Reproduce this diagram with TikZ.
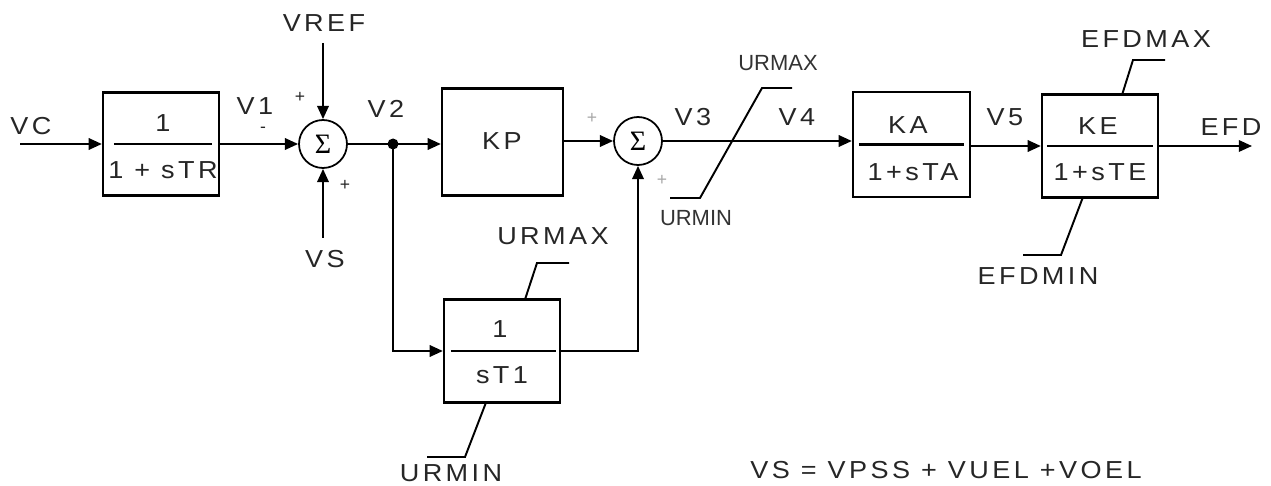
\documentclass[tikz,border=0pt]{standalone}
\usepackage{fontspec}
\setmainfont{Liberation Sans}
\newfontfamily\lblfont[FakeStretch=1.1,LetterSpace=14]{Liberation Sans}
\newfontfamily\sigfont{Liberation Serif}
\usetikzlibrary{arrows.meta,calc}
\begin{document}
\begin{tikzpicture}[x=0.02cm,y=-0.02cm,
  line width=1.2pt,
  arr/.style={-{Triangle[length=7.5pt,width=6.5pt]}},
  blk/.style={draw, line width=1.3pt, inner sep=0},
  sumnode/.style={draw,circle,minimum size=0.96cm,inner sep=0,line width=1pt,font=\sigfont\fontsize{16}{18}\selectfont},
  lbl/.style={font=\lblfont\fontsize{14}{16}\selectfont, text=black!85, inner sep=0},
  sml/.style={font=\fontsize{12.5}{14}\selectfont, text=black!80, inner sep=0},
  sgn/.style={font=\fontsize{10}{11}\selectfont, text=black!85, inner sep=0},
  gsgn/.style={sgn, text=black!35},
  lim/.style={line width=1.1pt},
]
\useasboundingbox (0,0) rectangle (1271,486);

% blocks
\node[blk,minimum width=2.32cm,minimum height=2.06cm] (tr) at (161,144) {};
\node[blk,minimum width=2.42cm,minimum height=2.14cm] (kp) at (502.5,142) {};
\node[blk,minimum width=2.32cm,minimum height=2.06cm] (t1) at (502,351) {};
\node[blk,minimum width=2.34cm,minimum height=2.10cm] (ka) at (911.5,144.5) {};
\node[blk,minimum width=2.32cm,minimum height=2.06cm] (ke) at (1100,146) {};

% fraction bars
\draw ([xshift=0.24cm]tr.west) -- ([xshift=-0.16cm]tr.east);
\draw ([xshift=0.16cm]t1.west) -- ([xshift=-0.10cm]t1.east);
\draw ([xshift=0.14cm]ka.west) -- ([xshift=-0.14cm]ka.east);
\draw ([xshift=0.12cm]ke.west) -- ([xshift=-0.12cm]ke.east);

% block texts
\node[lbl] (trn) at (163,123) {1};
\node[lbl] (trd) at (163,170) {1 + sTR};
\node[lbl] (kpt) at (502,141) {KP};
\node[lbl] (t1n) at (500,329) {1};
\node[lbl] (t1d) at (502,375) {sT1};
\node[lbl] (kan) at (908,125) {KA};
\node[lbl] (kad) at (913,172) {1+sTA};
\node[lbl] (ken) at (1098,126) {KE};
\node[lbl] (ked) at (1100,172) {1+sTE};

% summing junctions and dot
\node[sumnode] (s1) at (323,144) {Σ};
\node[sumnode] (s2) at (638,141) {Σ};
\node[circle,fill=black,inner sep=0,minimum size=0.22cm] (v2) at (393,144) {};

% free ends
\coordinate (vcin) at (20,144);
\coordinate (vrefin) at (323,43);
\coordinate (vsin) at (323,238);
\coordinate (efdout) at (1252,146);

% connectors
\draw[arr] (vcin) -- (tr.west);
\draw[arr] (tr.east) -- (s1.west);
\draw[arr] (vrefin) -- (s1.north);
\draw[arr] (vsin) -- (s1.south);
\draw (s1.east) -- (v2.center);
\draw[arr] (v2.center) -- (v2.center -| kp.west);
\draw[arr] (kp.east |- s2.west) -- (s2.west);
\draw[arr] (v2.center) |- (t1.west);
\draw[arr] (t1.east) -| (s2.south);
\draw[arr] (s2.east) -- (s2.east -| ka.west);
\draw[arr] (ka.east |- ke.west) -- (ke.west);
\draw[arr] (ke.east) -- (efdout);

% limiter on V3/V4 line
\draw[lim] (670,198) -- (700,198) -- (762,88) -- (792,88);
% limits of sT1
\draw[lim] (525,299.5) -- (537,263) -- (569,263);
\draw[lim] (486,402.5) -- (465,457) -- (427,457);
% limits of KE block
\draw[lim] (1122,95) -- (1133,60) -- (1165,60);
\draw[lim] (1083,197) -- (1061,255) -- (1023,255);

% signal labels
\node[lbl] (lvc) at (31,126) {VC};
\node[lbl] (lvref) at (324,23) {VREF};
\node[lbl] (lvs) at (325,259) {VS};
\node[lbl] (lv1) at (255,106) {V1};
\node[lbl] (lv2) at (386,109) {V2};
\node[lbl] (lv3) at (693,117) {V3};
\node[lbl] (lv4) at (797,117) {V4};
\node[lbl] (lv5) at (1005,117) {V5};
\node[lbl] (lefd) at (1231,127) {EFD};

% signs
\node[sgn] (m1) at (263,130) {-};
\node[sgn] (p1) at (300,97) {+};
\node[sgn] (p2) at (345,185) {+};
\node[gsgn] (p3) at (592,118) {+};
\node[gsgn] (p4) at (662,180) {+};

% limit labels
\node[sml] (urmax1) at (778,63) {URMAX};
\node[sml] (urmin1) at (696,218) {URMIN};
\node[lbl] (urmax2) at (553,236) {URMAX};
\node[lbl] (urmin2) at (451,473) {URMIN};
\node[lbl] (efdmax) at (1146,39) {EFDMAX};
\node[lbl] (efdmin) at (1038,276) {EFDMIN};

% equation
\node[lbl] (eq) at (946,470) {VS = VPSS + VUEL +VOEL};
\end{tikzpicture}
\end{document}
